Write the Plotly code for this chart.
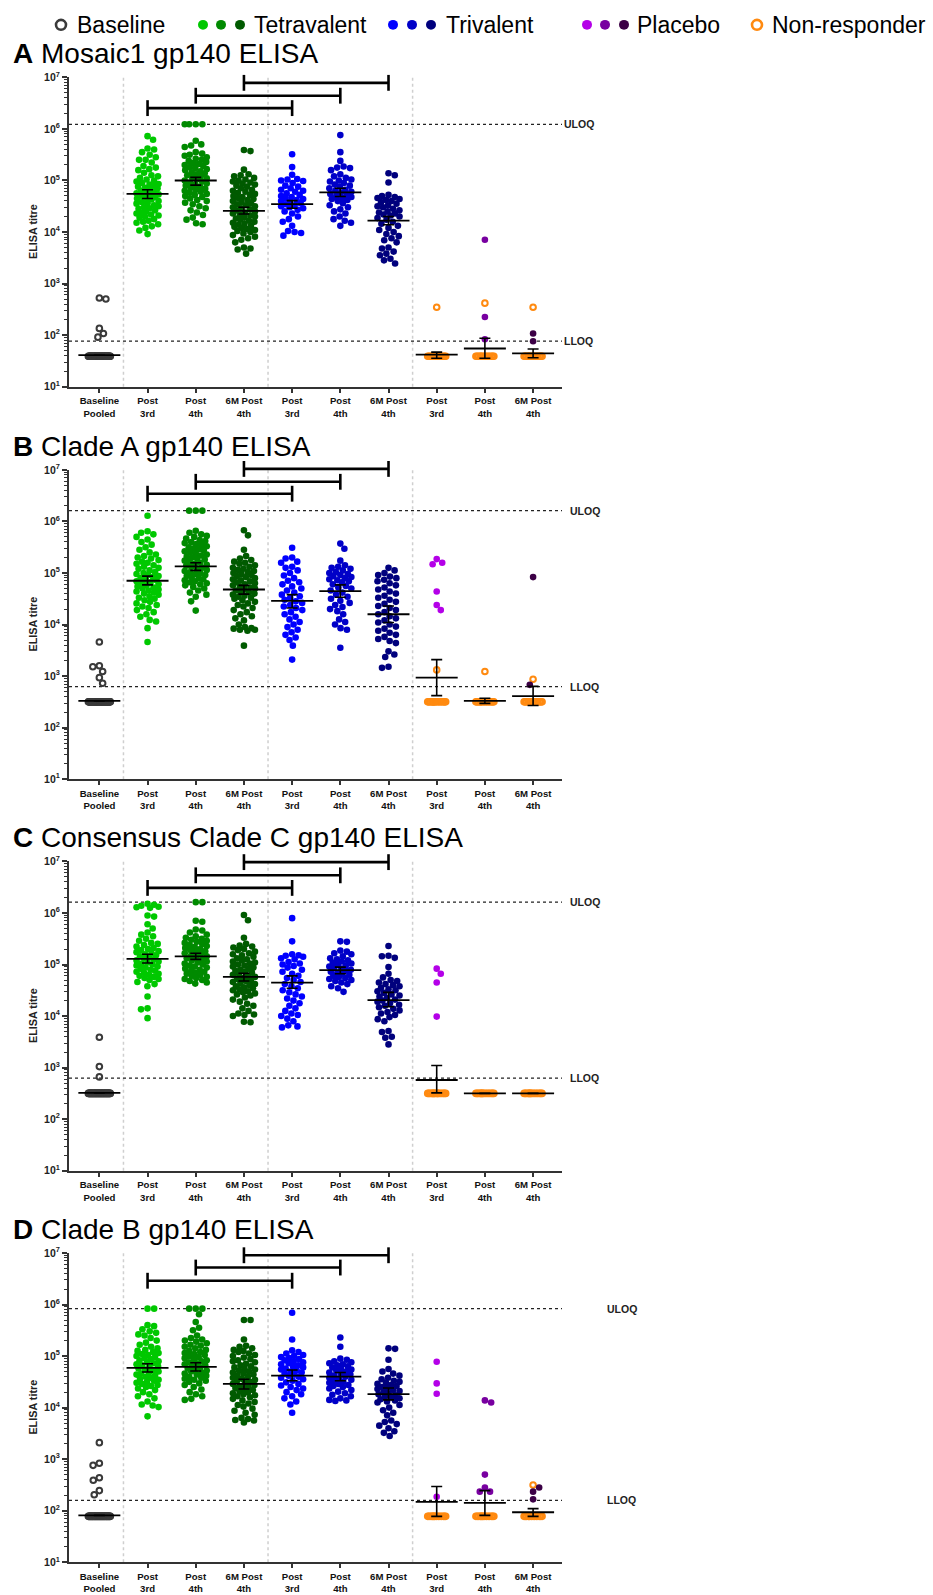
import math
import numpy as np
import plotly.graph_objects as go

W, H = 933, 1595
FONT = "Liberation Sans, Arial, sans-serif"

# ---------------- categories / styling keys ----------------
CATS = ["Baseline<br>Pooled", "Post<br>3rd", "Post<br>4th", "6M Post<br>4th",
        "Post<br>3rd", "Post<br>4th", "6M Post<br>4th",
        "Post<br>3rd", "Post<br>4th", "6M Post<br>4th"]
COLORS = ["#3a3a3a", "#00c800", "#008a00", "#005a00", "#0000ff", "#0000c8",
          "#00007d", "#b400e8", "#7800a0", "#3c0046"]
NR_COLOR = "#ff8a10"
PANEL_TITLES = ["<b>A</b> Mosaic1 gp140 ELISA", "<b>B</b> Clade A gp140 ELISA",
                "<b>C</b> Consensus Clade C gp140 ELISA", "<b>D</b> Clade B gp140 ELISA"]
ULOQ = [1.23e6, 1.62e6, 1.62e6, 8.3e5]
LLOQ = [76.5, 625, 625, 158]
LOW = [1.59, 2.50, 2.50, 1.89]          # log10 titre assigned to values below LLOQ

# ---------------- Panel A (log10 titres) ----------------
A_BASE = [2.72, 2.70, 2.13, 2.03, 1.96]; A_BASE_LOW_N = 45
A_TET3 = [5.86, 5.79, 5.62, 5.60, 5.55, 5.50, 5.45, 5.40, 5.40, 5.35, 5.28, 5.25, 5.22, 5.20, 5.15, 5.10, 5.08,
          5.05, 5.02, 5.00, 4.98, 4.95, 4.93, 4.92, 4.90, 4.88, 4.86, 4.85, 4.83, 4.80, 4.78, 4.76, 4.75, 4.73,
          4.72, 4.70, 4.68, 4.66, 4.65, 4.63, 4.60, 4.58, 4.56, 4.55, 4.52, 4.50, 4.48, 4.46, 4.45, 4.42, 4.40,
          4.38, 4.36, 4.34, 4.32, 4.30, 4.28, 4.25, 4.22, 4.20, 4.18, 4.15, 4.11, 4.08, 4.03, 3.96]
A_TET4 = [6.09, 6.09, 6.09, 6.09, 5.77, 5.70, 5.68, 5.65, 5.55, 5.52, 5.50, 5.48, 5.45, 5.42, 5.40, 5.38, 5.36,
          5.34, 5.32, 5.30, 5.28, 5.26, 5.24, 5.22, 5.20, 5.18, 5.16, 5.14, 5.12, 5.10, 5.08, 5.06, 5.04, 5.02,
          5.00, 4.98, 4.96, 4.94, 4.92, 4.90, 4.88, 4.86, 4.84, 4.82, 4.80, 4.78, 4.76, 4.74, 4.72, 4.70, 4.68,
          4.65, 4.62, 4.60, 4.57, 4.54, 4.50, 4.46, 4.42, 4.38, 4.33, 4.28, 4.24, 4.17, 4.15]
A_TET6 = [5.59, 5.57, 5.21, 5.12, 5.10, 5.08, 5.05, 5.02, 5.00, 4.98, 4.96, 4.94, 4.92, 4.90, 4.88, 4.85, 4.82,
          4.80, 4.78, 4.76, 4.74, 4.72, 4.70, 4.68, 4.66, 4.64, 4.62, 4.60, 4.58, 4.56, 4.54, 4.52, 4.50, 4.48,
          4.46, 4.44, 4.42, 4.40, 4.38, 4.36, 4.34, 4.32, 4.30, 4.28, 4.26, 4.24, 4.22, 4.20, 4.18, 4.16, 4.14,
          4.12, 4.10, 4.08, 4.06, 4.04, 4.02, 4.00, 3.97, 3.94, 3.91, 3.88, 3.85, 3.80, 3.70, 3.68, 3.66, 3.58]
A_TRI3 = [5.51, 5.26, 5.11, 5.03, 5.02, 5.00, 4.99, 4.95, 4.90, 4.88, 4.85, 4.82, 4.80, 4.78, 4.75, 4.72, 4.70,
          4.68, 4.66, 4.64, 4.62, 4.60, 4.58, 4.56, 4.54, 4.52, 4.50, 4.48, 4.46, 4.43, 4.40, 4.36, 4.30, 4.25,
          4.20, 4.12, 4.02, 4.00, 3.98, 3.93]
A_TRI4 = [5.88, 5.55, 5.38, 5.27, 5.25, 5.24, 5.20, 5.12, 5.08, 5.05, 5.02, 5.00, 4.98, 4.95, 4.92, 4.90, 4.88,
          4.85, 4.82, 4.80, 4.78, 4.76, 4.74, 4.72, 4.70, 4.68, 4.66, 4.64, 4.62, 4.60, 4.56, 4.52, 4.48, 4.44,
          4.40, 4.36, 4.30, 4.25, 4.22, 4.18, 4.12]
A_TRI6 = [5.14, 5.10, 4.96, 4.72, 4.70, 4.68, 4.66, 4.64, 4.62, 4.60, 4.58, 4.55, 4.52, 4.50, 4.48, 4.45, 4.42,
          4.40, 4.38, 4.36, 4.34, 4.32, 4.30, 4.27, 4.24, 4.20, 4.16, 4.12, 4.08, 4.04, 4.00, 3.96, 3.92, 3.88,
          3.84, 3.80, 3.70, 3.68, 3.62, 3.58, 3.55, 3.48, 3.45, 3.39]
A_PLA = [[], [3.85, 2.35, 1.92], [2.03, 1.88]]        # placebo responders
A_NR = [[2.54], [2.62], [2.54]]                       # non-responders above LLOQ/2
A_NR_LOW_N = [15, 14, 14]
A_MEAN = [1.61, 4.74, 5.00, 4.41, 4.54, 4.77, 4.22, 1.62, 1.74, 1.645]
A_LO = [1.61, 4.65, 4.91, 4.35, 4.46, 4.69, 4.14, 1.55, 1.55, 1.56]
A_HI = [1.61, 4.82, 5.06, 4.48, 4.61, 4.85, 4.30, 1.67, 1.94, 1.73]

# ---------------- Panel B ----------------
B_BASE = [3.66, 3.20, 3.18, 3.09, 2.97, 2.86]; B_BASE_LOW_N = 45
B_TET3 = [6.11, 5.81, 5.78, 5.75, 5.70, 5.65, 5.60, 5.55, 5.50, 5.45, 5.40, 5.36, 5.33, 5.30, 5.28, 5.25, 5.22,
          5.20, 5.18, 5.15, 5.12, 5.10, 5.08, 5.05, 5.02, 5.00, 4.98, 4.96, 4.94, 4.92, 4.90, 4.88, 4.86, 4.84,
          4.82, 4.80, 4.78, 4.76, 4.74, 4.72, 4.70, 4.68, 4.66, 4.64, 4.62, 4.60, 4.58, 4.55, 4.52, 4.50, 4.47,
          4.44, 4.41, 4.38, 4.35, 4.32, 4.28, 4.24, 4.20, 4.15, 4.09, 4.06, 3.93, 3.66]
B_TET4 = [6.21, 6.21, 6.21, 5.82, 5.78, 5.75, 5.72, 5.70, 5.67, 5.64, 5.62, 5.60, 5.58, 5.56, 5.54, 5.52, 5.50,
          5.48, 5.46, 5.44, 5.42, 5.40, 5.38, 5.36, 5.34, 5.32, 5.30, 5.28, 5.26, 5.24, 5.22, 5.20, 5.18, 5.16,
          5.14, 5.12, 5.10, 5.08, 5.06, 5.04, 5.02, 5.00, 4.98, 4.96, 4.94, 4.92, 4.90, 4.88, 4.86, 4.84, 4.82,
          4.80, 4.78, 4.76, 4.73, 4.70, 4.66, 4.62, 4.58, 4.54, 4.45, 4.27]
B_TET6 = [5.83, 5.73, 5.45, 5.33, 5.28, 5.25, 5.22, 5.20, 5.18, 5.15, 5.12, 5.10, 5.08, 5.06, 5.04, 5.02, 5.00,
          4.98, 4.96, 4.94, 4.92, 4.90, 4.88, 4.86, 4.84, 4.82, 4.80, 4.78, 4.76, 4.74, 4.72, 4.70, 4.68, 4.66,
          4.64, 4.62, 4.60, 4.58, 4.56, 4.54, 4.52, 4.50, 4.47, 4.44, 4.41, 4.38, 4.35, 4.32, 4.28, 4.24, 4.20,
          4.16, 4.12, 4.08, 4.00, 3.95, 3.93, 3.92, 3.90, 3.90, 3.88, 3.59]
B_TRI3 = [5.49, 5.30, 5.28, 5.22, 5.20, 5.12, 5.10, 5.05, 5.00, 4.95, 4.90, 4.85, 4.82, 4.78, 4.74, 4.70, 4.66,
          4.62, 4.58, 4.55, 4.52, 4.48, 4.45, 4.42, 4.38, 4.35, 4.32, 4.28, 4.24, 4.20, 4.15, 4.10, 4.05, 4.00,
          3.95, 3.90, 3.85, 3.80, 3.75, 3.70, 3.59, 3.32]
B_TRI4 = [5.57, 5.47, 5.24, 5.15, 5.12, 5.10, 5.08, 5.05, 5.02, 5.00, 4.98, 4.96, 4.94, 4.92, 4.90, 4.88, 4.86,
          4.84, 4.82, 4.78, 4.75, 4.72, 4.70, 4.66, 4.62, 4.58, 4.54, 4.50, 4.46, 4.42, 4.38, 4.34, 4.30, 4.26,
          4.20, 4.10, 4.05, 4.00, 3.93, 3.90, 3.55]
B_TRI6 = [5.10, 5.05, 5.00, 4.96, 4.93, 4.90, 4.87, 4.84, 4.80, 4.76, 4.72, 4.68, 4.64, 4.60, 4.56, 4.52, 4.48,
          4.44, 4.40, 4.36, 4.32, 4.28, 4.24, 4.20, 4.16, 4.12, 4.08, 4.04, 4.00, 3.96, 3.92, 3.88, 3.84, 3.80,
          3.76, 3.72, 3.68, 3.64, 3.48, 3.42, 3.37, 3.18, 3.16]
B_PLA = [[5.27, 5.20, 5.17, 4.64, 4.38, 4.28], [], [4.92, 2.83]]
B_NR = [[3.12], [3.09], [2.94]]
B_NR_LOW_N = [15, 14, 14]
B_MEAN = [2.52, 4.85, 5.13, 4.68, 4.46, 4.65, 4.20, 2.97, 2.52, 2.61]
B_LO = [2.52, 4.77, 5.05, 4.59, 4.32, 4.53, 4.04, 2.62, 2.47, 2.43]
B_HI = [2.52, 4.94, 5.20, 4.76, 4.58, 4.77, 4.36, 3.32, 2.57, 2.80]

# ---------------- Panel C ----------------
C_BASE = [3.59, 3.02, 2.82]; C_BASE_LOW_N = 45
C_TET3 = [6.18, 6.16, 6.14, 6.12, 6.11, 6.10, 5.95, 5.93, 5.78, 5.70, 5.62, 5.58, 5.55, 5.50, 5.46, 5.42, 5.40,
          5.38, 5.35, 5.32, 5.30, 5.28, 5.26, 5.24, 5.22, 5.20, 5.18, 5.16, 5.14, 5.12, 5.10, 5.08, 5.06, 5.04,
          5.02, 5.00, 4.98, 4.96, 4.94, 4.92, 4.90, 4.88, 4.86, 4.84, 4.82, 4.80, 4.78, 4.76, 4.74, 4.72, 4.70,
          4.66, 4.62, 4.58, 4.38, 4.15, 4.13, 3.96]
C_TET4 = [6.21, 6.21, 5.85, 5.83, 5.68, 5.66, 5.62, 5.58, 5.55, 5.52, 5.50, 5.48, 5.46, 5.44, 5.42, 5.40, 5.38,
          5.36, 5.34, 5.32, 5.30, 5.28, 5.26, 5.24, 5.22, 5.20, 5.18, 5.16, 5.14, 5.12, 5.10, 5.08, 5.06, 5.04,
          5.02, 5.00, 4.98, 4.96, 4.94, 4.92, 4.90, 4.88, 4.86, 4.84, 4.82, 4.80, 4.78, 4.76, 4.74, 4.72, 4.70,
          4.68, 4.65, 4.63]
C_TET6 = [5.96, 5.86, 5.52, 5.40, 5.37, 5.35, 5.33, 5.30, 5.28, 5.25, 5.22, 5.20, 5.18, 5.15, 5.12, 5.10, 5.08,
          5.06, 5.04, 5.02, 5.00, 4.98, 4.96, 4.94, 4.92, 4.90, 4.88, 4.86, 4.84, 4.82, 4.80, 4.78, 4.76, 4.74,
          4.72, 4.70, 4.68, 4.66, 4.64, 4.62, 4.60, 4.58, 4.56, 4.54, 4.52, 4.50, 4.48, 4.46, 4.44, 4.42, 4.40,
          4.36, 4.32, 4.28, 4.24, 4.20, 4.15, 4.10, 4.05, 4.03, 4.02, 4.00, 3.89, 3.88]
C_TRI3 = [5.90, 5.45, 5.20, 5.18, 5.17, 5.15, 5.12, 5.10, 5.05, 5.02, 5.00, 4.97, 4.94, 4.90, 4.86, 4.82, 4.78,
          4.74, 4.70, 4.66, 4.62, 4.58, 4.54, 4.50, 4.46, 4.42, 4.38, 4.34, 4.30, 4.25, 4.20, 4.15, 4.10, 4.05,
          4.02, 4.00, 3.95, 3.90, 3.82, 3.80, 3.78]
C_TRI4 = [5.45, 5.44, 5.27, 5.25, 5.22, 5.20, 5.16, 5.12, 5.10, 5.08, 5.06, 5.04, 5.02, 5.00, 4.98, 4.96, 4.94,
          4.92, 4.90, 4.88, 4.86, 4.84, 4.82, 4.80, 4.78, 4.76, 4.74, 4.72, 4.70, 4.68, 4.65, 4.62, 4.58, 4.54,
          4.47]
C_TRI6 = [5.36, 5.17, 5.16, 5.13, 4.95, 4.82, 4.75, 4.70, 4.68, 4.65, 4.62, 4.60, 4.58, 4.55, 4.52, 4.50, 4.48,
          4.45, 4.42, 4.40, 4.38, 4.35, 4.32, 4.30, 4.28, 4.25, 4.22, 4.20, 4.17, 4.14, 4.11, 4.08, 4.05, 4.02,
          3.98, 3.94, 3.90, 3.71, 3.69, 3.60, 3.58, 3.45]
C_PLA = [[4.92, 4.82, 4.65, 3.99], [], []]
C_NR = [[], [], []]
C_NR_LOW_N = [16, 15, 15]
C_MEAN = [2.51, 5.11, 5.16, 4.76, 4.65, 4.89, 4.31, 2.76, 2.50, 2.50]
C_LO = [2.51, 5.03, 5.10, 4.68, 4.54, 4.82, 4.18, 2.51, 2.50, 2.50]
C_HI = [2.51, 5.20, 5.22, 4.83, 4.78, 4.95, 4.46, 3.04, 2.50, 2.50]

# ---------------- Panel D ----------------
D_BASE = [3.32, 2.92, 2.88, 2.64, 2.59, 2.39, 2.31]; D_BASE_LOW_N = 45
D_TET3 = [5.92, 5.92, 5.60, 5.58, 5.52, 5.48, 5.45, 5.42, 5.40, 5.35, 5.30, 5.26, 5.22, 5.18, 5.15, 5.12, 5.10,
          5.08, 5.06, 5.04, 5.02, 5.00, 4.98, 4.96, 4.94, 4.92, 4.90, 4.88, 4.86, 4.84, 4.82, 4.80, 4.78, 4.76,
          4.74, 4.72, 4.70, 4.68, 4.66, 4.64, 4.62, 4.60, 4.58, 4.56, 4.54, 4.52, 4.50, 4.48, 4.46, 4.44, 4.42,
          4.40, 4.37, 4.34, 4.30, 4.26, 4.22, 4.18, 4.12, 4.06, 4.04, 4.01, 3.83]
D_TET4 = [5.92, 5.92, 5.92, 5.81, 5.66, 5.55, 5.50, 5.40, 5.35, 5.32, 5.30, 5.28, 5.25, 5.22, 5.20, 5.18, 5.15,
          5.12, 5.10, 5.08, 5.06, 5.04, 5.02, 5.00, 4.98, 4.96, 4.94, 4.92, 4.90, 4.88, 4.86, 4.84, 4.82, 4.80,
          4.78, 4.76, 4.74, 4.72, 4.70, 4.68, 4.66, 4.64, 4.62, 4.60, 4.58, 4.56, 4.54, 4.52, 4.50, 4.47, 4.44,
          4.40, 4.35, 4.30, 4.26, 4.22, 4.17, 4.15]
D_TET6 = [5.70, 5.70, 5.32, 5.20, 5.18, 5.15, 5.12, 5.10, 5.08, 5.05, 5.02, 5.00, 4.97, 4.94, 4.92, 4.90, 4.88,
          4.85, 4.82, 4.80, 4.78, 4.76, 4.74, 4.72, 4.70, 4.68, 4.66, 4.64, 4.62, 4.60, 4.58, 4.56, 4.54, 4.52,
          4.50, 4.48, 4.46, 4.44, 4.42, 4.40, 4.38, 4.36, 4.34, 4.32, 4.30, 4.28, 4.26, 4.24, 4.22, 4.20, 4.17,
          4.14, 4.11, 4.08, 4.05, 4.02, 3.98, 3.94, 3.90, 3.86, 3.80, 3.78, 3.76, 3.75, 3.71]
D_TRI3 = [5.84, 5.32, 5.11, 5.08, 5.05, 5.02, 5.00, 4.98, 4.96, 4.94, 4.92, 4.90, 4.88, 4.86, 4.84, 4.82, 4.80,
          4.78, 4.76, 4.74, 4.72, 4.70, 4.68, 4.66, 4.64, 4.62, 4.60, 4.58, 4.55, 4.52, 4.49, 4.46, 4.43, 4.40,
          4.37, 4.34, 4.30, 4.26, 4.22, 4.18, 4.12, 4.06, 3.90]
D_TRI4 = [5.36, 5.18, 4.95, 4.93, 4.90, 4.88, 4.86, 4.84, 4.82, 4.80, 4.78, 4.76, 4.74, 4.72, 4.70, 4.68, 4.66,
          4.64, 4.62, 4.60, 4.58, 4.56, 4.54, 4.52, 4.50, 4.48, 4.46, 4.44, 4.42, 4.40, 4.37, 4.34, 4.31, 4.28,
          4.25, 4.22, 4.18, 4.15, 4.14, 4.13]
D_TRI6 = [5.15, 5.14, 4.93, 4.75, 4.70, 4.66, 4.62, 4.58, 4.55, 4.52, 4.50, 4.48, 4.46, 4.44, 4.42, 4.40, 4.38,
          4.36, 4.34, 4.32, 4.30, 4.28, 4.26, 4.24, 4.22, 4.20, 4.18, 4.16, 4.14, 4.12, 4.10, 4.05, 4.00, 3.95,
          3.90, 3.85, 3.75, 3.72, 3.68, 3.65, 3.60, 3.54, 3.51, 3.45]
D_PLA = [[4.89, 4.47, 4.27, 2.27], [4.14, 4.10, 2.70, 2.45, 2.37, 2.37], [2.45, 2.37, 2.22]]
D_NR = [[], [], [2.50]]
D_NR_LOW_N = [15, 15, 14]
D_MEAN = [1.91, 4.77, 4.79, 4.46, 4.62, 4.60, 4.26, 2.17, 2.15, 1.97]
D_LO = [1.91, 4.69, 4.71, 4.36, 4.52, 4.52, 4.15, 1.89, 1.91, 1.89]
D_HI = [1.91, 4.85, 4.87, 4.55, 4.73, 4.68, 4.38, 2.47, 2.39, 2.04]

PANELS = [
    dict(base=A_BASE, base_n=A_BASE_LOW_N, groups=[A_TET3, A_TET4, A_TET6, A_TRI3, A_TRI4, A_TRI6],
         pla=A_PLA, nr=A_NR, nr_n=A_NR_LOW_N, mean=A_MEAN, lo=A_LO, hi=A_HI),
    dict(base=B_BASE, base_n=B_BASE_LOW_N, groups=[B_TET3, B_TET4, B_TET6, B_TRI3, B_TRI4, B_TRI6],
         pla=B_PLA, nr=B_NR, nr_n=B_NR_LOW_N, mean=B_MEAN, lo=B_LO, hi=B_HI),
    dict(base=C_BASE, base_n=C_BASE_LOW_N, groups=[C_TET3, C_TET4, C_TET6, C_TRI3, C_TRI4, C_TRI6],
         pla=C_PLA, nr=C_NR, nr_n=C_NR_LOW_N, mean=C_MEAN, lo=C_LO, hi=C_HI),
    dict(base=D_BASE, base_n=D_BASE_LOW_N, groups=[D_TET3, D_TET4, D_TET6, D_TRI3, D_TRI4, D_TRI6],
         pla=D_PLA, nr=D_NR, nr_n=D_NR_LOW_N, mean=D_MEAN, lo=D_LO, hi=D_HI),
]

# ---------------- geometry (pixels) ----------------
PANEL_TOP = [70, 466, 861, 1256]
PANEL_H = 312
X_LEFT, X_RIGHT = 69, 562
X_RANGE = [-0.63, 9.6]
PX_PER_CAT = (X_RIGHT - X_LEFT) / (X_RANGE[1] - X_RANGE[0])
PX_PER_DEC = PANEL_H / 6.0
BRACKET_OFF = [[31, 18.5, 5.5], [24, 12, -1], [26.7, 14, 0.7], [28, 14.7, 2.3]]
LABEL_X = [562, 568, 568, 605]


def swarm(vals, d=6.6, maxw=11.0):
    """Beeswarm offsets (category units) for log10 values."""
    ys = np.asarray(vals, dtype=float) * PX_PER_DEC
    order = np.argsort(-ys, kind="stable")
    placed = []
    xs = np.zeros(len(ys))
    flip = 1
    for i in order:
        y = ys[i]
        nb = [(px, py) for px, py in placed if abs(py - y) < d]
        cands = [0.0]
        for px, py in nb:
            dx = math.sqrt(max(d * d - (py - y) ** 2, 0))
            cands += [px - dx, px + dx]
        cands = sorted(set(cands), key=lambda c: (round(abs(c), 3), flip * c))
        chosen = None
        for c in cands:
            if abs(c) > maxw + 1e-9:
                continue
            if all((c - px) ** 2 + (y - py) ** 2 >= d * d - 1e-6 for px, py in nb):
                chosen = c
                break
        if chosen is None:
            best, bs = 0.0, -1
            for c in np.linspace(-maxw, maxw, 45):
                s = min((c - px) ** 2 + (y - py) ** 2 for px, py in nb)
                if s > bs:
                    best, bs = c, s
            chosen = best
        flip = -flip
        xs[i] = chosen
        placed.append((chosen, y))
    return xs / PX_PER_CAT


fig = go.Figure()
shapes, annos = [], []
layout_axes = {}

for p, P in enumerate(PANELS):
    xn = "x" if p == 0 else f"x{p+1}"
    yn = "y" if p == 0 else f"y{p+1}"
    top = PANEL_TOP[p]
    bot = top + PANEL_H
    low = LOW[p]

    # dividers
    for xv in [0.5, 3.5, 6.5]:
        shapes.append(dict(type="line", xref=xn, yref=f"{yn} domain", x0=xv, x1=xv, y0=0, y1=1,
                           line=dict(color="#cfcfcf", width=1.5, dash="dot"), layer="below"))

    # LOQ lines
    for v, lab in [(ULOQ[p], "ULOQ"), (LLOQ[p], "LLOQ")]:
        fig.add_trace(go.Scatter(x=X_RANGE, y=[v, v], mode="lines", xaxis=xn, yaxis=yn,
                                 line=dict(color="#222", width=1.3, dash="dot"), hoverinfo="skip",
                                 showlegend=False))
        annos.append(dict(text=f"<b>{lab}</b>", xref="paper", yref=yn, x=LABEL_X[p] / W, y=math.log10(v),
                          xanchor="left", yanchor="middle", showarrow=False,
                          font=dict(size=10.5, color="#222", family=FONT)))

    # points per category
    for c in range(10):
        if c == 0:
            pts = [(v, "open_base") for v in P["base"]] + [(low, "open_base")] * P["base_n"]
            maxw = 11.0
        elif c <= 6:
            pts = [(v, "fill") for v in P["groups"][c - 1]]
            maxw = 11.0
        else:
            k = c - 7
            pts = ([(v, "fill") for v in P["pla"][k]] + [(v, "open_nr") for v in P["nr"][k]]
                   + [(low, "open_nr")] * P["nr_n"][k])
            maxw = 9.0
        vals = [v for v, _ in pts]
        offs = swarm(vals, maxw=maxw)
        for kind in ["open_nr", "open_base", "fill"]:
            xs = [c + o for o, (v, k2) in zip(offs, pts) if k2 == kind]
            ys = [10 ** v for v, k2 in pts if k2 == kind]
            if not xs:
                continue
            if kind == "fill":
                mk = dict(symbol="circle", size=6.6, color=COLORS[c], line=dict(width=0))
            elif kind == "open_base":
                mk = dict(symbol="circle-open", size=5.6, color=COLORS[0], line=dict(width=2, color=COLORS[0]))
            else:
                mk = dict(symbol="circle-open", size=5.6, color=NR_COLOR, line=dict(width=2, color=NR_COLOR))
            fig.add_trace(go.Scatter(x=xs, y=ys, mode="markers", marker=mk, xaxis=xn, yaxis=yn,
                                     showlegend=False, hoverinfo="skip", cliponaxis=False))

    # mean +/- SEM
    m = np.array(P["mean"]); lo = np.array(P["lo"]); hi = np.array(P["hi"])
    fig.add_trace(go.Scatter(
        x=list(range(10)), y=10 ** m, mode="markers", xaxis=xn, yaxis=yn, showlegend=False,
        hoverinfo="skip", cliponaxis=False,
        marker=dict(symbol="line-ew-open", size=30, color="black", line=dict(width=1.8, color="black")),
        error_y=dict(type="data", symmetric=False, array=10 ** hi - 10 ** m, arrayminus=10 ** m - 10 ** lo,
                     width=5.5, thickness=1.6, color="black")))

    # brackets (tetravalent vs trivalent)
    for b, (a1, a2) in enumerate([(1, 4), (2, 5), (3, 6)]):
        yb = 1 - BRACKET_OFF[p][b] / PANEL_H
        t = 8 / PANEL_H
        ln = dict(color="black", width=2.6)
        shapes.append(dict(type="line", xref=xn, yref=f"{yn} domain", x0=a1, x1=a2, y0=yb, y1=yb, line=ln))
        for xa in (a1, a2):
            shapes.append(dict(type="line", xref=xn, yref=f"{yn} domain", x0=xa, x1=xa, y0=yb - t, y1=yb + t,
                               line=ln))

    # axes
    ydom = [1 - bot / H, 1 - top / H]
    xkey = "xaxis" if p == 0 else f"xaxis{p+1}"
    ykey = "yaxis" if p == 0 else f"yaxis{p+1}"
    layout_axes[xkey] = dict(domain=[X_LEFT / W, X_RIGHT / W], range=X_RANGE, anchor=yn,
                             tickvals=list(range(10)), ticktext=CATS, ticks="outside", ticklen=4,
                             tickwidth=1.5, tickcolor="#333", showline=True, linewidth=2, linecolor="#333",
                             showgrid=False, zeroline=False,
                             tickfont=dict(size=9.6, color="#111", family=FONT, weight=700))
    minor_vals = [mm * 10 ** e for e in range(1, 7) for mm in range(2, 10)]
    layout_axes[ykey] = dict(domain=ydom, type="log", range=[1, 7], anchor=xn,
                             tickvals=[10 ** e for e in range(1, 8)],
                             ticktext=[f"10<sup>{e}</sup>" for e in range(1, 8)],
                             ticks="outside", ticklen=5, tickwidth=1.5, tickcolor="#333",
                             showline=True, linewidth=2, linecolor="#333", showgrid=False, zeroline=False,
                             tickfont=dict(size=10.5, color="#222", family=FONT, weight=700),
                             minor=dict(tickvals=minor_vals, ticks="outside", ticklen=3, tickwidth=1,
                                        tickcolor="#333", showgrid=False))

    # titles
    annos.append(dict(text=PANEL_TITLES[p], xref="paper", yref="paper", x=11 / W, y=1 - (top - 24) / H,
                      xanchor="left", yanchor="middle", showarrow=False,
                      font=dict(size=28, color="black", family=FONT)))
    annos.append(dict(text="ELISA titre", xref="paper", yref="paper", x=33 / W, y=1 - (top + PANEL_H / 2) / H,
                      xanchor="center", yanchor="middle", showarrow=False, textangle=-90,
                      font=dict(size=10.8, color="#222", family=FONT, weight=700)))

# ---------------- custom legend ----------------
LEG_Y = 17
r = 5.0
def circ(cx, color, open_=False):
    d = dict(type="circle", xref="paper", yref="paper", x0=(cx - r) / W, x1=(cx + r) / W,
             y0=1 - (LEG_Y + r) / H, y1=1 - (LEG_Y - r) / H)
    if open_:
        d.update(line=dict(color=color, width=2.6), fillcolor="white")
    else:
        d.update(line=dict(color=color, width=0), fillcolor=color)
    return d

shapes.append(circ(61, COLORS[0], True))
for cx, col in zip([203, 221, 240], COLORS[1:4]):
    shapes.append(circ(cx, col))
for cx, col in zip([393, 412, 431], COLORS[4:7]):
    shapes.append(circ(cx, col))
for cx, col in zip([587, 605, 624], COLORS[7:10]):
    shapes.append(circ(cx, col))
shapes.append(circ(757, NR_COLOR, True))
for txt, x0 in [("Baseline", 75), ("Tetravalent", 252), ("Trivalent", 444), ("Placebo", 635),
                ("Non-responder", 770)]:
    annos.append(dict(text=txt, xref="paper", yref="paper", x=x0 / W, y=1 - LEG_Y / H, xanchor="left",
                      yanchor="middle", showarrow=False, font=dict(size=23, color="black", family=FONT)))

fig.update_layout(width=W, height=H, margin=dict(l=0, r=0, t=0, b=0), paper_bgcolor="white",
                  plot_bgcolor="white", showlegend=False, shapes=shapes, annotations=annos,
                  font=dict(family=FONT), **layout_axes)
fig.write_html("out.html",
               post_script="document.body.style.margin='0';document.body.style.padding='0';")
